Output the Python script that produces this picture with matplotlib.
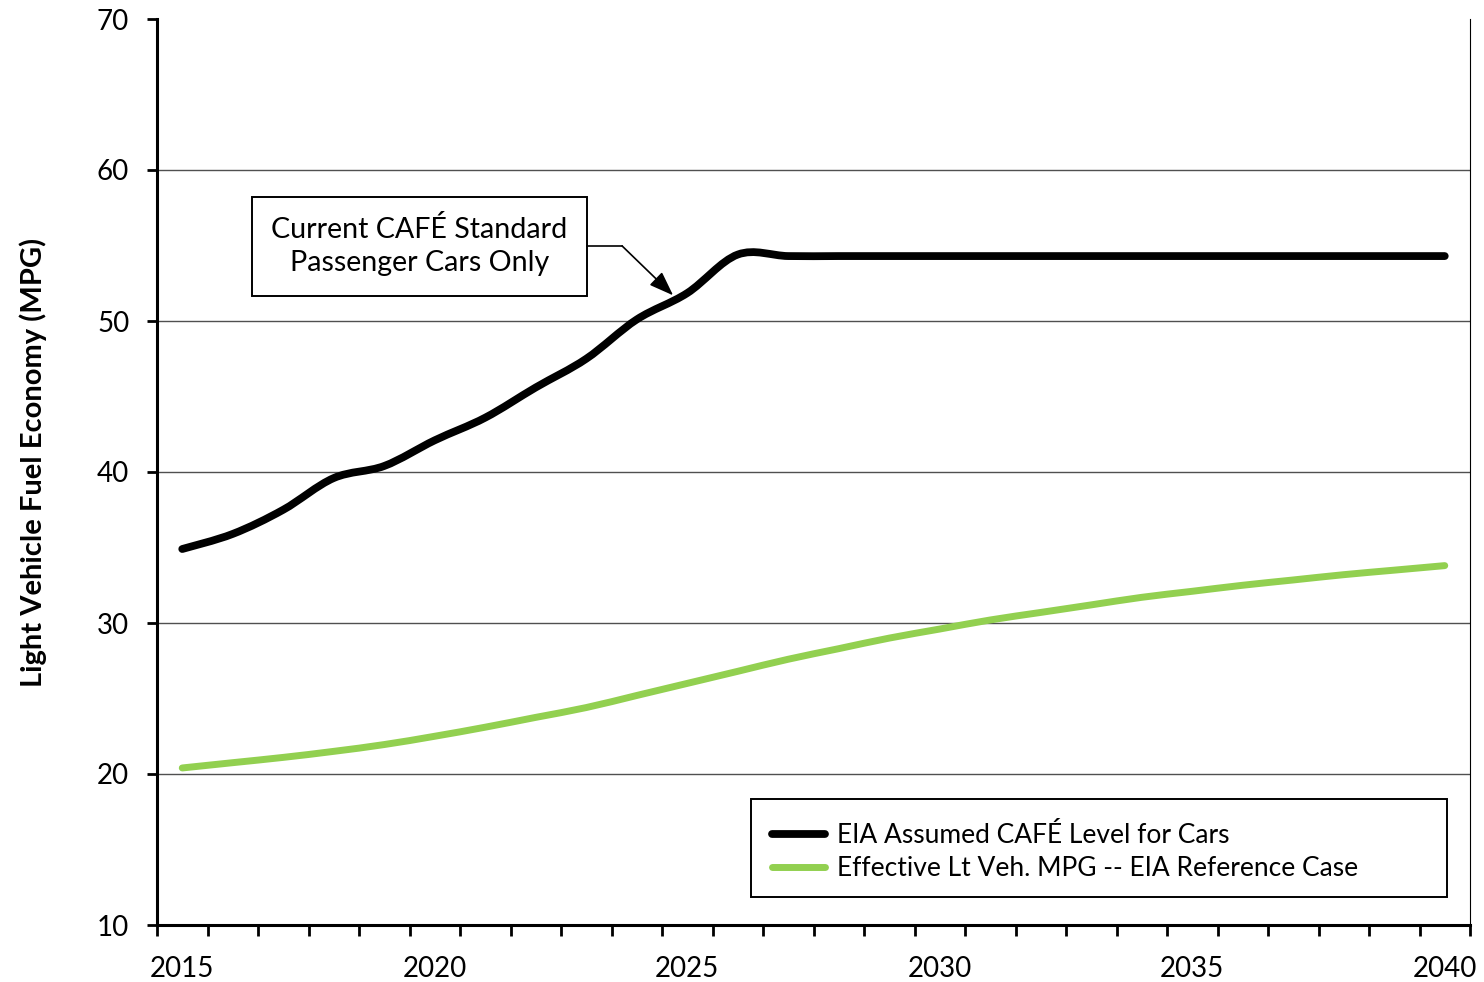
import matplotlib
matplotlib.use("Agg")
import matplotlib.pyplot as plt
from matplotlib.path import Path
from matplotlib.patches import PathPatch, Rectangle
from matplotlib.lines import Line2D
import numpy as np

plt.rcParams['font.family'] = ['Lato', 'DejaVu Sans']

years = list(range(2015, 2041))
cafe_cars = [34.9, 35.9, 37.5, 39.6, 40.4, 42.1, 43.6, 45.6, 47.5, 50.1,
             51.85, 54.4, 54.3, 54.3, 54.3, 54.3, 54.3, 54.3, 54.3, 54.3,
             54.3, 54.3, 54.3, 54.3, 54.3, 54.3]
effective_mpg = [20.4, 20.75, 21.1, 21.5, 21.95, 22.5, 23.1, 23.75, 24.4, 25.2,
                 26.0, 26.8, 27.6, 28.3, 29.0, 29.6, 30.2, 30.7, 31.2, 31.7,
                 32.1, 32.5, 32.85, 33.2, 33.5, 33.8]
series_labels = ["EIA Assumed CAFÉ Level for Cars",
                 "Effective Lt Veh. MPG -- EIA Reference Case"]
x_labels = ["2015", "2020", "2025", "2030", "2035", "2040"]
y_ticks = [10, 20, 30, 40, 50, 60, 70]
callout = "Current CAFÉ Standard\nPassenger Cars Only"

BLACK = "#000000"
GREEN = "#92D050"


def smooth_path(xs, ys):
    """Cubic Bezier path through every point (Catmull-Rom style tangents)."""
    pts = np.column_stack([xs, ys]).astype(float)
    n = len(pts)
    verts = [pts[0]]
    codes = [Path.MOVETO]
    for i in range(n - 1):
        p0 = pts[i - 1] if i > 0 else pts[i]
        p1 = pts[i]
        p2 = pts[i + 1]
        p3 = pts[i + 2] if i + 2 < n else pts[i + 1]
        c1 = p1 + (p2 - p0) / 6.0
        c2 = p2 - (p3 - p1) / 6.0
        verts += [c1, c2, p2]
        codes += [Path.CURVE4] * 3
    return Path(verts, codes)


fig = plt.figure(figsize=(14.84, 9.82), dpi=100)
ax = fig.add_axes([157 / 1484, 57 / 982, 1313 / 1484, 906 / 982])

idx = np.arange(len(years))
ax.set_xlim(-0.5, len(years) - 0.5)
ax.set_ylim(10, 70)

# grid
for v in y_ticks[1:-1]:
    ax.axhline(v, color="#505050", lw=1.0, zorder=1)

# series
for vals, col, lw in [(effective_mpg, GREEN, 5.0), (cafe_cars, BLACK, 5.6)]:
    patch = PathPatch(smooth_path(idx, vals), facecolor="none", edgecolor=col,
                      lw=lw, capstyle="round", joinstyle="round", zorder=3)
    ax.add_patch(patch)

# axes styling
ax.spines['top'].set_visible(False)
ax.spines['right'].set_linewidth(0.8)
ax.spines['left'].set_linewidth(2.2)
ax.spines['bottom'].set_linewidth(2.2)

ax.set_yticks(y_ticks)
ax.set_yticklabels([str(v) for v in y_ticks])
ax.tick_params(axis='y', direction='out', length=7, width=2.0, pad=13,
               labelsize=20)

ax.set_xticks(np.arange(-0.5, len(years)), minor=True)
ax.set_xticks([years.index(int(s)) for s in x_labels])
ax.set_xticklabels(x_labels)
ax.tick_params(axis='x', which='minor', direction='out', length=8, width=2.0)
ax.tick_params(axis='x', which='major', length=0, pad=22, labelsize=20)

fig.text(33 / 1484, (982 - 462) / 982, "Light Vehicle Fuel Economy (MPG)",
         rotation=90, ha='center', va='center', fontsize=21, fontweight='bold')

# callout box with arrow
ax.add_patch(Rectangle((1.38, 51.66), 8.01 - 1.38, 58.21 - 51.66,
                       facecolor="white", edgecolor="black", lw=1.4, zorder=4))
ax.text(4.70, 54.97, callout, ha='center', va='center', fontsize=20.6,
        linespacing=1.35, zorder=5)
ax.plot([8.01, 8.71], [54.97, 54.97], color="black", lw=1.2, zorder=4)
ax.annotate("", xy=(9.72, 51.70), xytext=(8.71, 54.97),
            arrowprops=dict(arrowstyle="-|>,head_length=1.5,head_width=0.55",
                            color="black", lw=1.2, shrinkA=0, shrinkB=0),
            zorder=4)

# legend
ax.add_patch(Rectangle((11.26, 11.85), 25.04 - 11.26, 18.34 - 11.85,
                       facecolor="white", edgecolor="black", lw=1.4, zorder=4))
handles = [Line2D([], [], color=BLACK, lw=5.6, solid_capstyle='round'),
           Line2D([], [], color=GREEN, lw=5.0, solid_capstyle='round')]
leg = fig.legend(handles, series_labels, loc='center left',
                 bbox_to_anchor=(772 / 1484, (982 - 852) / 982),
                 frameon=False, fontsize=19, handlelength=2.0,
                 handletextpad=0.45, labelspacing=0.32, borderpad=0,
                 borderaxespad=0)
leg.set_zorder(6)

fig.savefig("out.png", dpi=100)
